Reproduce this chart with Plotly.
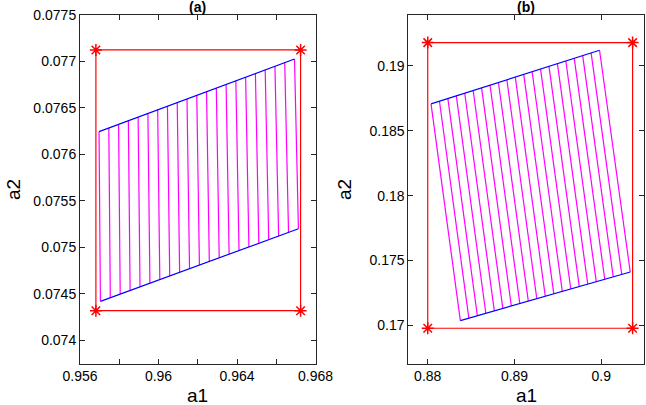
import plotly.graph_objects as go

# ---------------- data ----------------
# Panel (a)
a_rect_x = [0.95681, 0.96724, 0.96724, 0.95681]
a_rect_y = [0.077124, 0.077124, 0.074318, 0.074318]
# polygon corners: top-left, top-right, bottom-right, bottom-left
a_poly_x = [0.95697, 0.96693, 0.96713, 0.95704]
a_poly_y = [0.076245, 0.077027, 0.075200, 0.074419]

# Panel (b)
b_rect_x = [0.88000, 0.90361, 0.90361, 0.88000]
b_rect_y = [0.19180, 0.19180, 0.16977, 0.16977]
b_poly_x = [0.88038, 0.89980, 0.90334, 0.88376]
b_poly_y = [0.18707, 0.19121, 0.17411, 0.17036]

# hatch positions along the polygon (fraction from left edge to right edge)
hatch_t = [0.00, 0.05, 0.10, 0.15, 0.20, 0.25, 0.30, 0.35, 0.40, 0.45, 0.50,
           0.55, 0.60, 0.65, 0.70, 0.75, 0.80, 0.85, 0.90, 0.95, 1.00]

a_xticks = [0.956, 0.958, 0.960, 0.962, 0.964, 0.966, 0.968]
a_xtick_text = ["0.956", "", "0.96", "", "0.964", "", "0.968"]
a_yticks = [0.074, 0.0745, 0.075, 0.0755, 0.076, 0.0765, 0.077, 0.0775]
a_ytick_text = ["0.074", "0.0745", "0.075", "0.0755", "0.076", "0.0765", "0.077", "0.0775"]
b_xticks = [0.88, 0.89, 0.90]
b_xtick_text = ["0.88", "0.89", "0.9"]
b_yticks = [0.17, 0.175, 0.18, 0.185, 0.19]
b_ytick_text = ["0.17", "0.175", "0.18", "0.185", "0.19"]

titles = ["(a)", "(b)"]
xlabel = "a1"
ylabel = "a2"

# ---------------- styling ----------------
RED = "#ff0000"
BLUE = "#0000ff"
MAG = "#ff00ff"
AX = "#262626"
FONT = "Liberation Sans, Arial, sans-serif"

fig = go.Figure()


def hatch(px, py):
    tlx, trx, brx, blx = px
    tly, try_, bry, bly = py
    xs, ys = [], []
    for t in hatch_t:
        xs += [tlx + t * (trx - tlx), blx + t * (brx - blx), None]
        ys += [tly + t * (try_ - tly), bly + t * (bry - bly), None]
    return xs, ys


def add_panel(rx, ry, px, py, xa, ya):
    hx, hy = hatch(px, py)
    fig.add_trace(go.Scatter(x=hx, y=hy, mode="lines",
                             line=dict(color=MAG, width=1.2),
                             xaxis=xa, yaxis=ya, showlegend=False, hoverinfo="skip"))
    # top and bottom edges in blue
    fig.add_trace(go.Scatter(x=[px[3], px[2], None, px[0], px[1]],
                             y=[py[3], py[2], None, py[0], py[1]], mode="lines",
                             line=dict(color=BLUE, width=1.2),
                             xaxis=xa, yaxis=ya, showlegend=False))
    fig.add_trace(go.Scatter(x=rx + [rx[0]], y=ry + [ry[0]], mode="lines",
                             line=dict(color=RED, width=1.2),
                             xaxis=xa, yaxis=ya, showlegend=False))
    fig.add_trace(go.Scatter(x=rx, y=ry, mode="markers",
                             marker=dict(symbol="asterisk-open", size=10, color=RED,
                                         line=dict(color=RED, width=1.5)),
                             xaxis=xa, yaxis=ya, showlegend=False))


add_panel(a_rect_x, a_rect_y, a_poly_x, a_poly_y, "x", "y")
add_panel(b_rect_x, b_rect_y, b_poly_x, b_poly_y, "x2", "y2")

W, H = 646, 405
ydom = [(H - 363.5) / H, (H - 15) / H]
axis_common = dict(showline=True, linecolor=AX, linewidth=1, mirror="ticks",
                   ticks="inside", ticklen=5, tickcolor=AX, showgrid=False,
                   zeroline=False, automargin=False,
                   tickfont=dict(family=FONT, size=14, color="#000"))

fig.update_layout(
    width=W, height=H, margin=dict(l=0, r=0, t=0, b=0, pad=0, autoexpand=False),
    showlegend=False,
    paper_bgcolor="white", plot_bgcolor="white",
    xaxis=dict(domain=[80 / W, 315.5 / W], range=[0.956, 0.968],
               tickvals=a_xticks, ticktext=a_xtick_text, anchor="y", **axis_common),
    yaxis=dict(domain=ydom, range=[0.07375, 0.0775],
               tickvals=a_yticks, ticktext=a_ytick_text, anchor="x", **axis_common),
    xaxis2=dict(domain=[408.3 / W, 644.3 / W], range=[0.87776, 0.90496],
                tickvals=b_xticks, ticktext=b_xtick_text, anchor="y2", **axis_common),
    yaxis2=dict(domain=ydom, range=[0.16705, 0.19393],
                tickvals=b_yticks, ticktext=b_ytick_text, anchor="x2", **axis_common),
)

ann = []
centers = [(80 + 315.5) / 2 / W, (408.3 + 644.3) / 2 / W]
for c, t in zip(centers, titles):
    ann.append(dict(x=c, y=(H - 7.5) / H, xref="paper", yref="paper", text="<b>%s</b>" % t,
                    showarrow=False, xanchor="center", yanchor="middle",
                    font=dict(family=FONT, size=14, color="#000")))
    ann.append(dict(x=c, y=(H - 395.5) / H, xref="paper", yref="paper", text=xlabel,
                    showarrow=False, xanchor="center", yanchor="middle",
                    font=dict(family=FONT, size=19, color="#000")))
for xpx in [13, 344]:
    ann.append(dict(x=xpx / W, y=(H - 190) / H, xref="paper", yref="paper", text=ylabel,
                    showarrow=False, xanchor="center", yanchor="middle", textangle=-90,
                    font=dict(family=FONT, size=19, color="#000")))
fig.update_layout(annotations=ann)

# remove the page's default body margin so the figure sits at the window origin
fig.write_html("out.html", config={"displayModeBar": False},
               post_script="document.body.style.margin='0';document.body.style.overflow='hidden';")
